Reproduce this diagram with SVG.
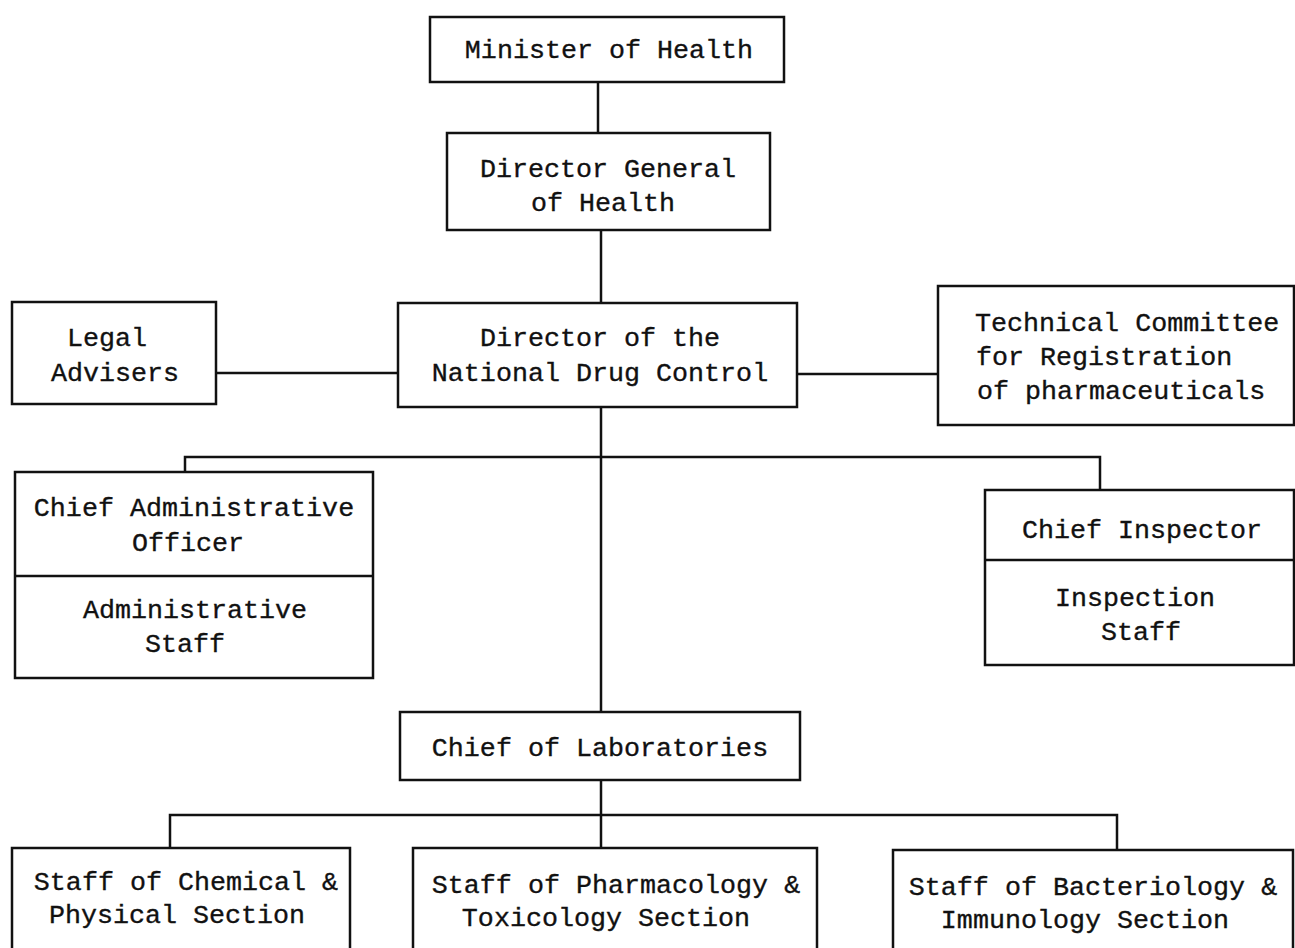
<svg xmlns="http://www.w3.org/2000/svg" width="1295" height="948" viewBox="0 0 1295 948">
<style>
.box{fill:none;stroke:#111;stroke-width:2.5}
.ln{fill:none;stroke:#111;stroke-width:2.5}
text{font-family:"Liberation Mono","DejaVu Sans Mono",monospace;font-size:26.7px;fill:#111;stroke:#111;stroke-width:0.35}
.c{text-anchor:middle}
</style>
<rect width="1295" height="948" fill="#fff"/>
<g id="connectors">
<path class="ln" d="M598,82 V133"/>
<path class="ln" d="M601,230 V303"/>
<path class="ln" d="M216,373 H398"/>
<path class="ln" d="M797,374 H938"/>
<path class="ln" d="M601,407 V712"/>
<path class="ln" d="M185,472 V457 H1100 V490"/>
<path class="ln" d="M601,780 V848"/>
<path class="ln" d="M170,848 V815 H1117 V850"/>
</g>
<g id="minister">
<rect class="box" x="430" y="17" width="354" height="65"/>
<text class="c" x="609" y="58">Minister of Health</text>
</g>
<g id="director-general">
<rect class="box" x="447" y="133" width="323" height="97"/>
<text class="c" x="608" y="177">Director General</text>
<text class="c" x="603" y="211">of Health</text>
</g>
<g id="director-ndc">
<rect class="box" x="398" y="303" width="399" height="104"/>
<text class="c" x="600" y="346">Director of the</text>
<text class="c" x="600" y="381">National Drug Control</text>
</g>
<g id="legal">
<rect class="box" x="12" y="302" width="204" height="102"/>
<text class="c" x="107" y="346">Legal</text>
<text class="c" x="115" y="381">Advisers</text>
</g>
<g id="technical">
<rect class="box" x="938" y="286" width="356" height="139"/>
<text x="975" y="331">Technical Committee</text>
<text x="976" y="365">for Registration</text>
<text x="977" y="399">of pharmaceuticals</text>
</g>
<g id="admin">
<rect class="box" x="15" y="472" width="358" height="206"/>
<path class="ln" d="M15,576 H373"/>
<text class="c" x="194" y="516">Chief Administrative</text>
<text class="c" x="188" y="551">Officer</text>
<text class="c" x="195" y="618">Administrative</text>
<text class="c" x="185" y="652">Staff</text>
</g>
<g id="inspector">
<rect class="box" x="985" y="490" width="309" height="175"/>
<path class="ln" d="M985,560 H1294"/>
<text class="c" x="1142" y="538">Chief Inspector</text>
<text class="c" x="1135" y="606">Inspection</text>
<text class="c" x="1141" y="640">Staff</text>
</g>
<g id="chief-labs">
<rect class="box" x="400" y="712" width="400" height="68"/>
<text class="c" x="600" y="756">Chief of Laboratories</text>
</g>
<g id="chemical">
<rect class="box" x="12" y="848" width="338" height="110"/>
<text class="c" x="186" y="890">Staff of Chemical &amp;</text>
<text class="c" x="177" y="923">Physical Section</text>
</g>
<g id="pharmacology">
<rect class="box" x="413" y="848" width="404" height="110"/>
<text class="c" x="616" y="893">Staff of Pharmacology &amp;</text>
<text class="c" x="606" y="926">Toxicology Section</text>
</g>
<g id="bacteriology">
<rect class="box" x="893" y="850" width="400" height="110"/>
<text class="c" x="1093" y="895">Staff of Bacteriology &amp;</text>
<text class="c" x="1085" y="928">Immunology Section</text>
</g>
</svg>
